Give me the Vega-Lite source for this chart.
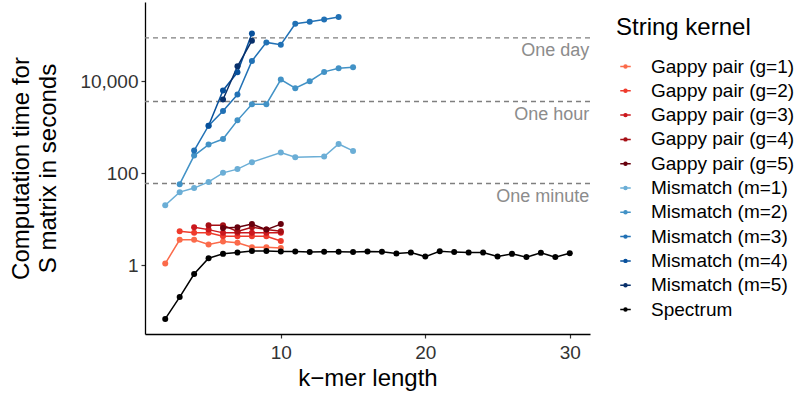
{
  "$schema": "https://vega.github.io/schema/vega-lite/v6.json",
  "width": 445,
  "height": 332,
  "autosize": "none",
  "padding": {"left": 145, "top": 2, "right": 213, "bottom": 62},
  "background": "white",
  "config": {
    "font": "Liberation Sans",
    "view": {"stroke": null},
    "axis": {"grid": false, "domainColor": "black", "domainWidth": 1.3, "tickColor": "#333333", "tickWidth": 1.2, "tickSize": 4, "labelColor": "#333333", "labelFontSize": 19, "titleFontSize": 24, "titleFontWeight": "normal", "titleColor": "black", "labelFont": "Liberation Sans", "titleFont": "Liberation Sans"}
  },
  "datasets": {
    "series": [
      {"kernel": "Gappy pair (g=1)", "k": 2, "t": 1.1},
      {"kernel": "Gappy pair (g=1)", "k": 3, "t": 3.6},
      {"kernel": "Gappy pair (g=1)", "k": 4, "t": 3.6},
      {"kernel": "Gappy pair (g=1)", "k": 5, "t": 2.85},
      {"kernel": "Gappy pair (g=1)", "k": 6, "t": 3.3},
      {"kernel": "Gappy pair (g=1)", "k": 7, "t": 3.1},
      {"kernel": "Gappy pair (g=1)", "k": 8, "t": 2.5},
      {"kernel": "Gappy pair (g=1)", "k": 9, "t": 2.5},
      {"kernel": "Gappy pair (g=1)", "k": 10, "t": 2.4},
      {"kernel": "Gappy pair (g=2)", "k": 3, "t": 5.5},
      {"kernel": "Gappy pair (g=2)", "k": 4, "t": 5.1},
      {"kernel": "Gappy pair (g=2)", "k": 5, "t": 5.1},
      {"kernel": "Gappy pair (g=2)", "k": 6, "t": 4.3},
      {"kernel": "Gappy pair (g=2)", "k": 7, "t": 4.3},
      {"kernel": "Gappy pair (g=2)", "k": 8, "t": 4.3},
      {"kernel": "Gappy pair (g=2)", "k": 9, "t": 4.3},
      {"kernel": "Gappy pair (g=2)", "k": 10, "t": 3.4},
      {"kernel": "Gappy pair (g=3)", "k": 4, "t": 6.75},
      {"kernel": "Gappy pair (g=3)", "k": 5, "t": 6.0},
      {"kernel": "Gappy pair (g=3)", "k": 6, "t": 5.1},
      {"kernel": "Gappy pair (g=3)", "k": 7, "t": 5.1},
      {"kernel": "Gappy pair (g=3)", "k": 8, "t": 5.1},
      {"kernel": "Gappy pair (g=3)", "k": 9, "t": 5.1},
      {"kernel": "Gappy pair (g=3)", "k": 10, "t": 5.1},
      {"kernel": "Gappy pair (g=4)", "k": 5, "t": 7.45},
      {"kernel": "Gappy pair (g=4)", "k": 6, "t": 7.45},
      {"kernel": "Gappy pair (g=4)", "k": 7, "t": 5.5},
      {"kernel": "Gappy pair (g=4)", "k": 8, "t": 6.75},
      {"kernel": "Gappy pair (g=4)", "k": 9, "t": 6.0},
      {"kernel": "Gappy pair (g=4)", "k": 10, "t": 5.5},
      {"kernel": "Gappy pair (g=5)", "k": 6, "t": 6.5},
      {"kernel": "Gappy pair (g=5)", "k": 7, "t": 6.75},
      {"kernel": "Gappy pair (g=5)", "k": 8, "t": 7.9},
      {"kernel": "Gappy pair (g=5)", "k": 9, "t": 6.0},
      {"kernel": "Gappy pair (g=5)", "k": 10, "t": 7.9},
      {"kernel": "Mismatch (m=1)", "k": 2, "t": 20.2},
      {"kernel": "Mismatch (m=1)", "k": 3, "t": 39},
      {"kernel": "Mismatch (m=1)", "k": 4, "t": 47.7},
      {"kernel": "Mismatch (m=1)", "k": 5, "t": 65},
      {"kernel": "Mismatch (m=1)", "k": 6, "t": 102},
      {"kernel": "Mismatch (m=1)", "k": 7, "t": 123},
      {"kernel": "Mismatch (m=1)", "k": 8, "t": 174},
      {"kernel": "Mismatch (m=1)", "k": 10, "t": 281},
      {"kernel": "Mismatch (m=1)", "k": 11, "t": 222},
      {"kernel": "Mismatch (m=1)", "k": 13, "t": 231},
      {"kernel": "Mismatch (m=1)", "k": 14, "t": 431},
      {"kernel": "Mismatch (m=1)", "k": 15, "t": 305},
      {"kernel": "Mismatch (m=2)", "k": 3, "t": 58},
      {"kernel": "Mismatch (m=2)", "k": 4, "t": 242},
      {"kernel": "Mismatch (m=2)", "k": 5, "t": 419},
      {"kernel": "Mismatch (m=2)", "k": 6, "t": 553},
      {"kernel": "Mismatch (m=2)", "k": 7, "t": 1403},
      {"kernel": "Mismatch (m=2)", "k": 8, "t": 3150},
      {"kernel": "Mismatch (m=2)", "k": 9, "t": 3150},
      {"kernel": "Mismatch (m=2)", "k": 10, "t": 10770},
      {"kernel": "Mismatch (m=2)", "k": 11, "t": 7000},
      {"kernel": "Mismatch (m=2)", "k": 12, "t": 9900},
      {"kernel": "Mismatch (m=2)", "k": 13, "t": 15800},
      {"kernel": "Mismatch (m=2)", "k": 14, "t": 18900},
      {"kernel": "Mismatch (m=2)", "k": 15, "t": 19900},
      {"kernel": "Mismatch (m=3)", "k": 4, "t": 311},
      {"kernel": "Mismatch (m=3)", "k": 5, "t": 1077},
      {"kernel": "Mismatch (m=3)", "k": 6, "t": 2230},
      {"kernel": "Mismatch (m=3)", "k": 7, "t": 5100},
      {"kernel": "Mismatch (m=3)", "k": 8, "t": 27300},
      {"kernel": "Mismatch (m=3)", "k": 9, "t": 68900},
      {"kernel": "Mismatch (m=3)", "k": 10, "t": 61400},
      {"kernel": "Mismatch (m=3)", "k": 11, "t": 174600},
      {"kernel": "Mismatch (m=3)", "k": 12, "t": 192800},
      {"kernel": "Mismatch (m=3)", "k": 13, "t": 216300},
      {"kernel": "Mismatch (m=3)", "k": 14, "t": 243800},
      {"kernel": "Mismatch (m=4)", "k": 5, "t": 1077},
      {"kernel": "Mismatch (m=4)", "k": 6, "t": 6240},
      {"kernel": "Mismatch (m=4)", "k": 7, "t": 15500},
      {"kernel": "Mismatch (m=4)", "k": 8, "t": 107700},
      {"kernel": "Mismatch (m=5)", "k": 6, "t": 3980},
      {"kernel": "Mismatch (m=5)", "k": 7, "t": 20900},
      {"kernel": "Mismatch (m=5)", "k": 8, "t": 75000},
      {"kernel": "Spectrum", "k": 2, "t": 0.0695},
      {"kernel": "Spectrum", "k": 3, "t": 0.207},
      {"kernel": "Spectrum", "k": 4, "t": 0.652},
      {"kernel": "Spectrum", "k": 5, "t": 1.44},
      {"kernel": "Spectrum", "k": 6, "t": 1.79},
      {"kernel": "Spectrum", "k": 7, "t": 1.91},
      {"kernel": "Spectrum", "k": 8, "t": 2.05},
      {"kernel": "Spectrum", "k": 9, "t": 2.05},
      {"kernel": "Spectrum", "k": 10, "t": 2.02},
      {"kernel": "Spectrum", "k": 11, "t": 2.0},
      {"kernel": "Spectrum", "k": 12, "t": 1.95},
      {"kernel": "Spectrum", "k": 13, "t": 1.98},
      {"kernel": "Spectrum", "k": 14, "t": 1.98},
      {"kernel": "Spectrum", "k": 15, "t": 1.95},
      {"kernel": "Spectrum", "k": 16, "t": 2.0},
      {"kernel": "Spectrum", "k": 17, "t": 1.98},
      {"kernel": "Spectrum", "k": 18, "t": 1.82},
      {"kernel": "Spectrum", "k": 19, "t": 1.91},
      {"kernel": "Spectrum", "k": 20, "t": 1.56},
      {"kernel": "Spectrum", "k": 21, "t": 2.03},
      {"kernel": "Spectrum", "k": 22, "t": 1.95},
      {"kernel": "Spectrum", "k": 23, "t": 1.91},
      {"kernel": "Spectrum", "k": 24, "t": 1.91},
      {"kernel": "Spectrum", "k": 25, "t": 1.56},
      {"kernel": "Spectrum", "k": 26, "t": 1.79},
      {"kernel": "Spectrum", "k": 27, "t": 1.52},
      {"kernel": "Spectrum", "k": 28, "t": 1.88},
      {"kernel": "Spectrum", "k": 29, "t": 1.52},
      {"kernel": "Spectrum", "k": 30, "t": 1.85}
    ],
    "refs": [
      {"label": "One day", "t": 86400},
      {"label": "One hour", "t": 3600},
      {"label": "One minute", "t": 60}
    ]
  },
  "layer": [
    {
      "data": {"name": "refs"},
      "mark": {"type": "rule", "color": "#7f7f7f", "strokeWidth": 1.3, "strokeDash": [5, 4]},
      "encoding": {
        "y": {"field": "t", "type": "quantitative", "scale": {"type": "log", "domain": [0.0327, 517600], "nice": false, "zero": false}}
      }
    },
    {
      "data": {"name": "refs"},
      "mark": {"type": "text", "align": "right", "baseline": "alphabetic", "dy": 18.5, "fontSize": 18, "color": "#8c8c8c", "font": "Liberation Sans"},
      "encoding": {
        "x": {"datum": 31.35, "type": "quantitative"},
        "y": {"field": "t", "type": "quantitative"},
        "text": {"field": "label"}
      }
    },
    {
      "data": {"name": "series"},
      "mark": {"type": "line", "strokeWidth": 1.5},
      "encoding": {
        "x": {"field": "k", "type": "quantitative", "scale": {"domain": [0.6, 31.4], "nice": false, "zero": false},
              "axis": {"values": [10, 20, 30], "title": "k\u2212mer length", "labelPadding": 5, "titlePadding": 4}},
        "y": {"field": "t", "type": "quantitative",
              "axis": {"values": [1, 100, 10000], "format": ",", "title": ["Computation time for", "S matrix in seconds"], "titleLineHeight": 27, "titlePadding": 19, "labelPadding": 3}},
        "color": {"field": "kernel", "type": "nominal",
          "scale": {"domain": ["Gappy pair (g=1)", "Gappy pair (g=2)", "Gappy pair (g=3)", "Gappy pair (g=4)", "Gappy pair (g=5)", "Mismatch (m=1)", "Mismatch (m=2)", "Mismatch (m=3)", "Mismatch (m=4)", "Mismatch (m=5)", "Spectrum"],
                    "range": ["#FB6A4A", "#EF3B2C", "#CB181D", "#A50F15", "#67000D", "#6BAED6", "#4292C6", "#2171B5", "#08519C", "#08306B", "#000000"]},
          "legend": {
            "title": "String kernel", "orient": "none", "legendX": 471, "legendY": 14,
            "titleFontSize": 24, "titleFontWeight": "normal", "titleColor": "black", "titleFont": "Liberation Sans", "titlePadding": 17,
            "labelFontSize": 19, "labelColor": "black", "labelFont": "Liberation Sans", "labelOffset": 16, "rowPadding": 4.3,
            "symbolType": "M-1,0L1,0M-0.28,0A0.28,0.28,0,1,0,0.28,0A0.28,0.28,0,1,0,-0.28,0Z",
            "symbolSize": 110, "symbolStrokeWidth": 1.5,
            "encode": {"symbols": {"update": {"fill": {"scale": "color", "field": "value"}, "stroke": {"scale": "color", "field": "value"}}}}
          }
        },
        "detail": {"field": "kernel"}
      }
    },
    {
      "data": {"name": "series"},
      "mark": {"type": "point", "filled": true, "size": 36, "opacity": 1},
      "encoding": {
        "x": {"field": "k", "type": "quantitative"},
        "y": {"field": "t", "type": "quantitative"},
        "color": {"field": "kernel", "type": "nominal"}
      }
    }
  ]
}
